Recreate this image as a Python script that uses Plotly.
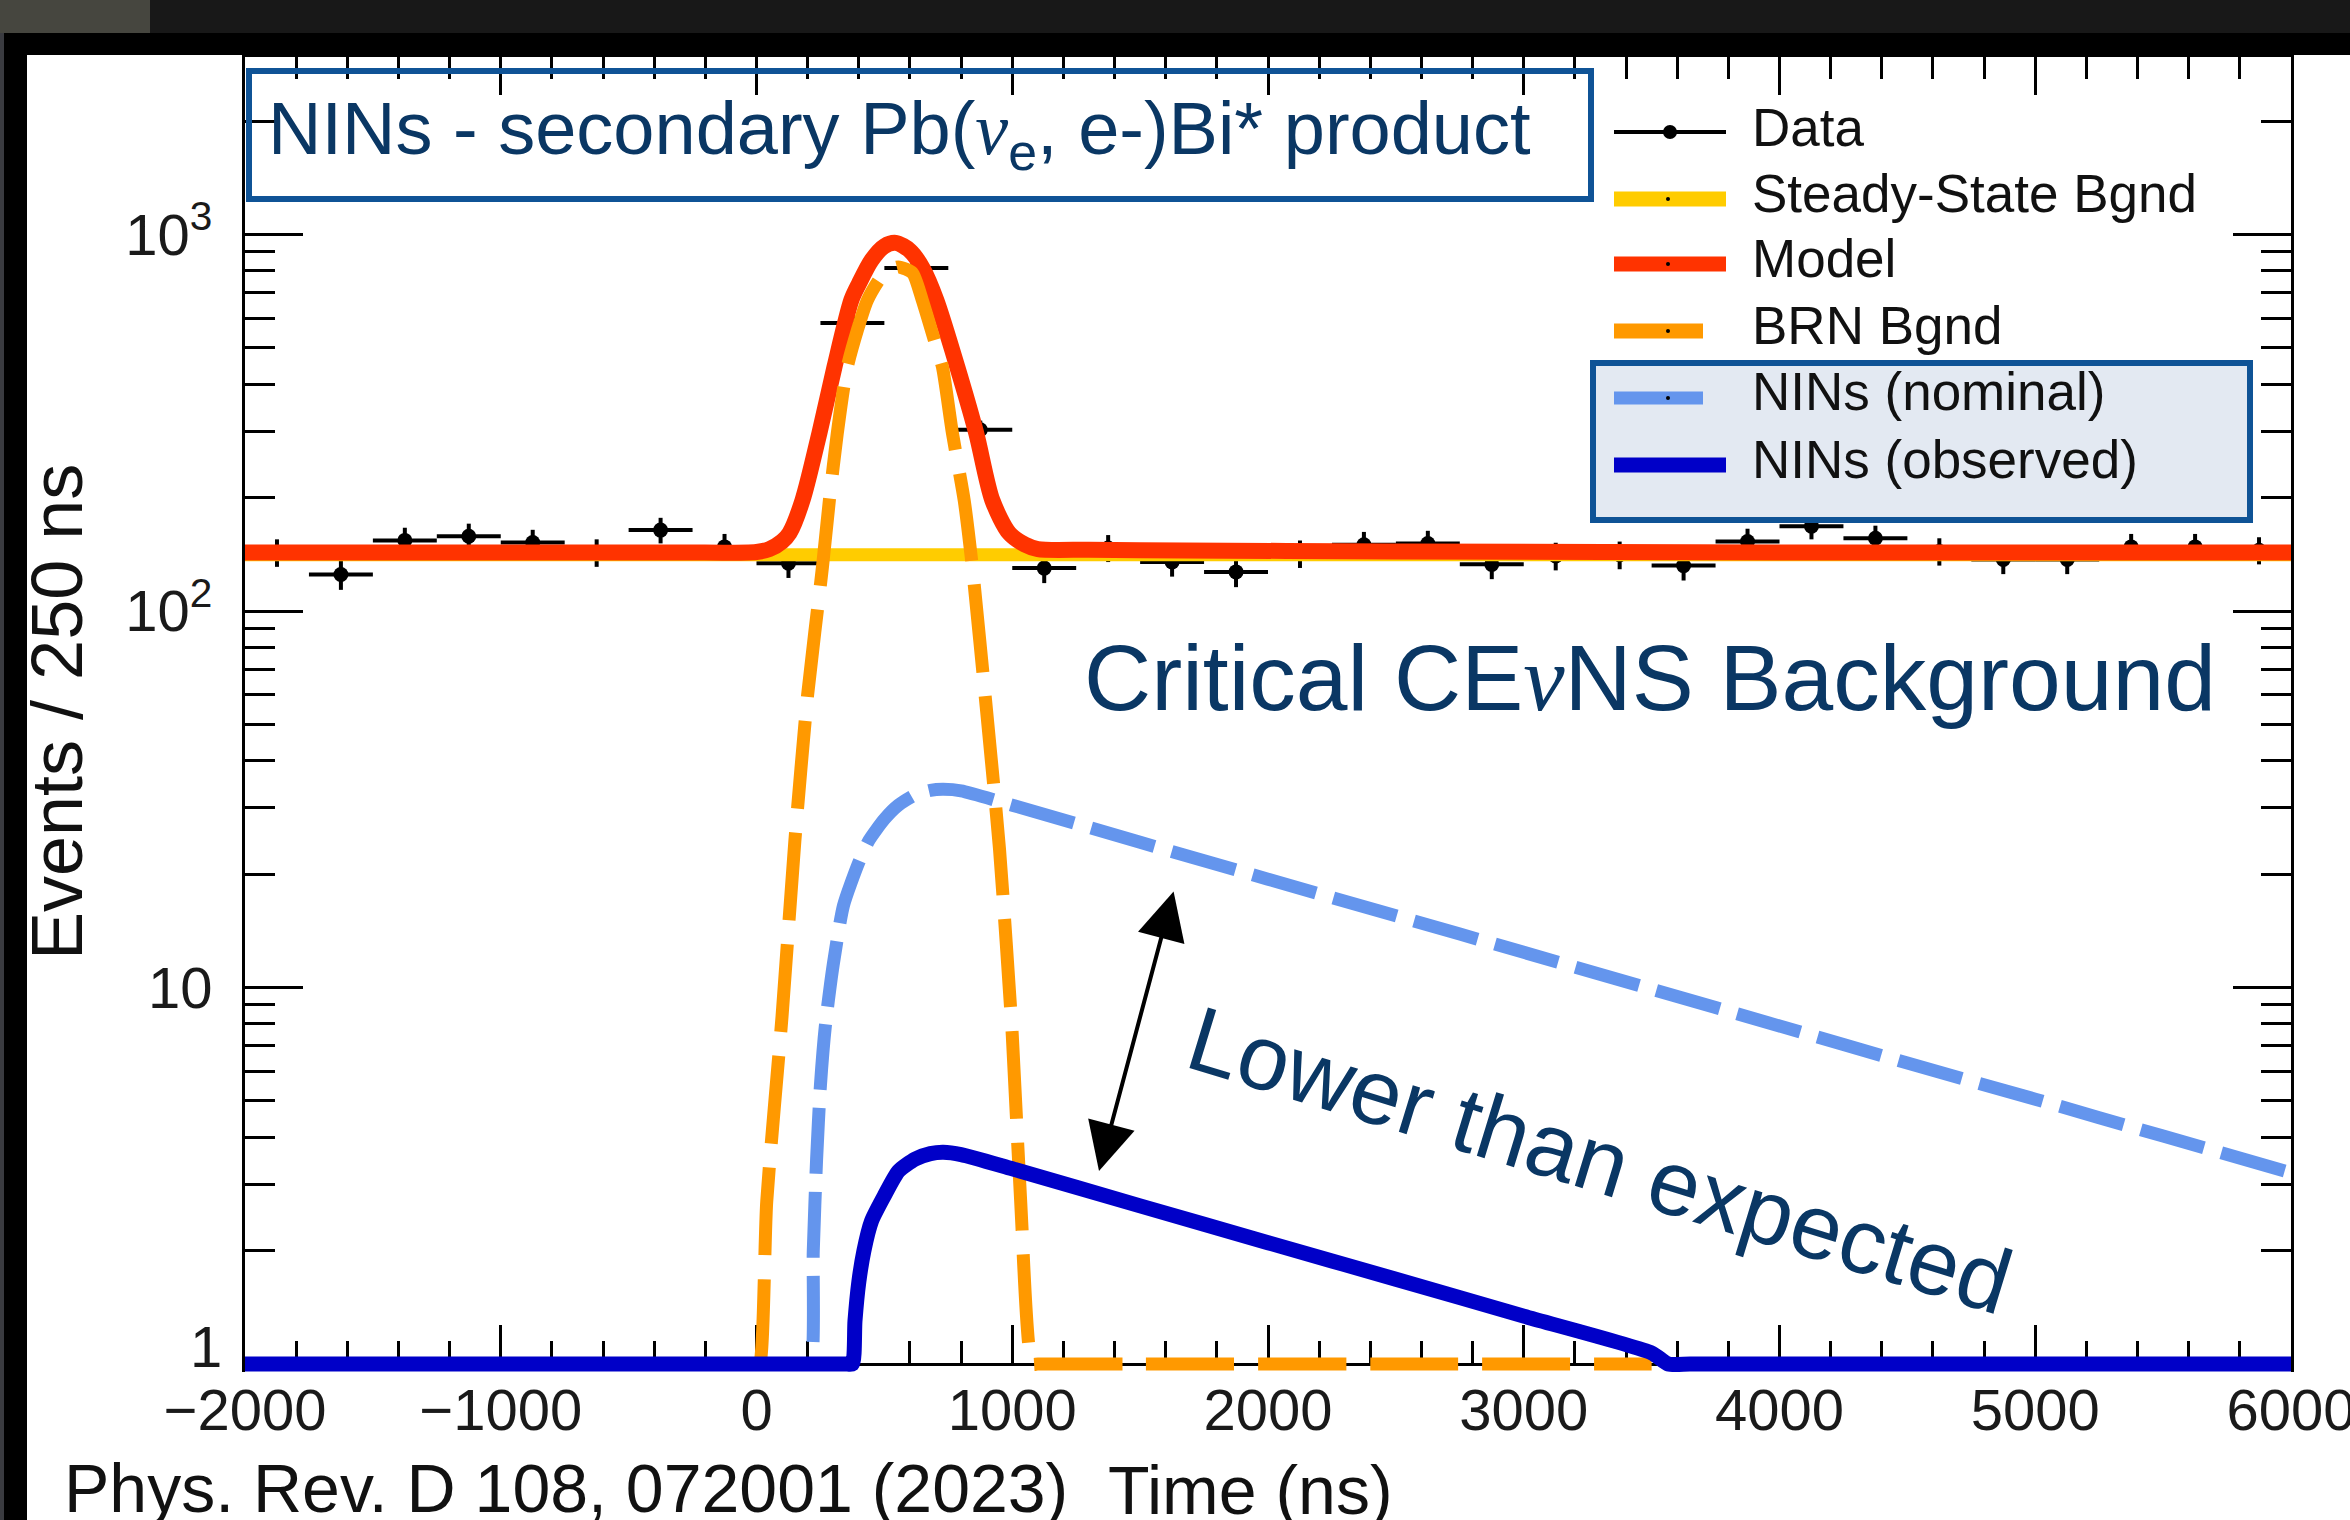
import plotly.graph_objects as go

# ---------------- data ----------------
bin_centers = [-1875, -1625, -1375, -1125, -875, -625, -375, -125,
               125, 375, 625, 875, 1125, 1375, 1625, 1875,
               2125, 2375, 2625, 2875, 3125, 3375, 3625, 3875,
               4125, 4375, 4625, 4875, 5125, 5375, 5625, 5875]
data_counts = [143, 125, 154, 158, 152, 143, 164, 148,
               134, 582, 815, 303, 130, 147, 135, 127,
               142, 150, 151, 133, 140, 141, 132, 153,
               168, 156, 144, 137, 137, 148, 148, 145]
data_err = [12.0, 11.2, 12.4, 12.6, 12.3, 12.0, 12.8, 12.2,
            11.6, 24.1, 28.5, 17.4, 11.4, 12.1, 11.6, 11.3,
            11.9, 12.2, 12.3, 11.5, 11.8, 11.9, 11.5, 12.4,
            13.0, 12.5, 12.0, 11.7, 11.7, 12.2, 12.2, 12.0]
bin_half_width = 125

steady_t = [-2000, 6000]
steady_v = [141, 141]

model_t = [-2000, -1000, -300, 0, 50, 100, 129, 180, 246, 305, 371, 400, 450, 500, 545,
           600, 650, 703, 785, 859, 922, 988, 1050, 1100, 1300, 1500, 2500, 4000, 6000]
model_v = [143, 143, 143, 143.5, 146, 153, 161, 197, 297, 445, 670, 739, 855, 931, 950,
           906, 813, 670, 445, 297, 197, 161, 150, 146, 145.5, 145, 144, 143, 143]

brn_t = [0, 12, 40, 100, 150, 200, 258, 285, 316, 355, 434, 500, 555, 610, 648,
         700, 727, 766, 812, 844, 900, 950, 1000, 1033, 1078, 1100, 1500, 2500, 3500]
brn_v = [1, 1, 2.7, 8.4, 24.5, 60, 131, 197, 297, 445, 670, 790, 820, 790, 670,
         512, 445, 297, 197, 131, 54, 23.4, 7.5, 2.7, 1, 1, 1, 1, 1]

nin_nom_t = [-2000, -500, 100, 180, 211, 222, 235, 250, 270, 300, 340, 400, 440, 500,
             555, 620, 680, 730, 800, 1000, 1500, 2000, 2500, 3000, 3500, 4000, 4500,
             5000, 5500, 6000]
nin_nom_v = [1, 1, 1, 1, 1, 2.0, 3.5, 5.5, 8.0, 11.5, 16.5, 21.5, 24.6, 28,
             30.5, 32.5, 33.4, 33.6, 33.3, 30.5, 24.3, 19.4, 15.5, 12.4, 9.9, 7.9, 6.3,
             5.05, 4.03, 3.22]

nin_obs_t = [-2000, -1000, 0, 200, 300, 350, 375, 385, 400, 420, 450, 500, 555, 620,
             680, 730, 800, 1000, 1500, 2000, 2500, 3000, 3500, 3565, 3650, 4000, 5000, 6000]
nin_obs_v = [1, 1, 1, 1, 1, 1, 1, 1.3, 1.65, 2.0, 2.4, 2.8, 3.25, 3.5,
             3.62, 3.65, 3.6, 3.3, 2.63, 2.1, 1.68, 1.34, 1.07, 1, 1, 1, 1, 1]

x_tick_vals = [-2000, -1000, 0, 1000, 2000, 3000, 4000, 5000, 6000]
x_tick_text = ["\u22122000", "\u22121000", "0", "1000", "2000", "3000", "4000", "5000", "6000"]
y_tick_vals = [1, 10, 100, 1000]
y_tick_text = ["", "10", "10<sup>2</sup>", "10<sup>3</sup>"]
y_bottom_label = "1"
y_minor_vals = [2, 3, 4, 5, 6, 7, 8, 9, 20, 30, 40, 50, 60, 70, 80, 90,
                200, 300, 400, 500, 600, 700, 800, 900, 2000]

legend_labels = ["Data", "Steady-State Bgnd", "Model", "BRN Bgnd",
                 "NINs (nominal)", "NINs (observed)"]

# ---------------- styling ----------------
FONT = "Liberation Sans, Arial, Helvetica, sans-serif"
NAVY = "#0a3764"
BOXBLUE = "#0f5396"
C_STEADY = "#ffcc00"
C_MODEL = "#ff3300"
C_BRN = "#ff9900"
C_NOM = "#6495ed"
C_OBS = "#0000c8"

W, H = 2350, 1520
L, R, T = 245, 59, 57
AXIS_Y = 1364          # pixel row of the value 1 / bottom frame
EXTRA = 8              # plot area extends a little below the frame so thick lines at 1 are not clipped
B = H - AXIS_Y - EXTRA
PW, PH = W - L - R, H - T - B
DEC = 376.5            # pixels per decade
y_lo = -EXTRA / DEC
y_hi = (AXIS_Y - T) / DEC


def px(x):
    return (x - L) / PW


def py(y):
    return (H - B - y) / PH


fig = go.Figure()

fig.add_trace(go.Scatter(
    x=bin_centers, y=data_counts, mode="markers",
    marker=dict(color="black", size=15, symbol="circle"),
    error_y=dict(type="data", array=data_err, thickness=4, width=0, color="black"),
    error_x=dict(type="constant", value=bin_half_width, thickness=4, width=0, color="black"),
    name=legend_labels[0], cliponaxis=False))

fig.add_trace(go.Scatter(x=steady_t, y=steady_v, mode="lines",
                         line=dict(color=C_STEADY, width=13), name=legend_labels[1]))
fig.add_trace(go.Scatter(x=model_t, y=model_v, mode="lines",
                         line=dict(color=C_MODEL, width=16, shape="spline", smoothing=0.8),
                         name=legend_labels[2]))
fig.add_trace(go.Scatter(x=brn_t, y=brn_v, mode="lines",
                         line=dict(color=C_BRN, width=13, dash="88px,24px",
                                   shape="spline", smoothing=0.6),
                         name=legend_labels[3]))
fig.add_trace(go.Scatter(x=nin_nom_t, y=nin_nom_v, mode="lines",
                         line=dict(color=C_NOM, width=13, dash="66px,18px",
                                   shape="spline", smoothing=0.6),
                         name=legend_labels[4]))
fig.add_trace(go.Scatter(x=nin_obs_t, y=nin_obs_v, mode="lines",
                         line=dict(color=C_OBS, width=15, shape="spline", smoothing=0.6),
                         name=legend_labels[5]))
# empty trace that carries the mirrored top axis
fig.add_trace(go.Scatter(x=[None], y=[None], xaxis="x2", yaxis="y", showlegend=False,
                         hoverinfo="skip"))

shapes = []
# photo frame around the white slide
shapes.append(dict(type="rect", xref="paper", yref="paper", x0=px(0), x1=px(W), y0=py(0), y1=py(33),
                   fillcolor="#181818", line=dict(width=0), layer="above"))
shapes.append(dict(type="rect", xref="paper", yref="paper", x0=px(0), x1=px(150), y0=py(0), y1=py(33),
                   fillcolor="#46463f", line=dict(width=0), layer="above"))
shapes.append(dict(type="rect", xref="paper", yref="paper", x0=px(4), x1=px(W), y0=py(33), y1=py(55),
                   fillcolor="black", line=dict(width=0), layer="above"))
shapes.append(dict(type="rect", xref="paper", yref="paper", x0=px(4), x1=px(27), y0=py(33), y1=py(H),
                   fillcolor="black", line=dict(width=0), layer="above"))
shapes.append(dict(type="rect", xref="paper", yref="paper", x0=px(0), x1=px(4), y0=py(33), y1=py(H),
                   fillcolor="#3a3b40", line=dict(width=0), layer="above"))

# title box (no fill)
shapes.append(dict(type="rect", xref="paper", yref="paper", x0=px(249), x1=px(1591),
                   y0=py(199), y1=py(71), line=dict(color=BOXBLUE, width=6), layer="above"))
# NINs legend box
shapes.append(dict(type="rect", xref="paper", yref="paper", x0=px(1593), x1=px(2250),
                   y0=py(520), y1=py(363), fillcolor="#e3e9f2",
                   line=dict(color=BOXBLUE, width=6), layer="above"))

# legend symbols
rows = [132, 199, 264, 331, 398, 465]
sym = [("black", 4, 1726), (C_STEADY, 15, 1726), (C_MODEL, 15, 1726),
       (C_BRN, 15, 1703), (C_NOM, 13, 1703), (C_OBS, 15, 1726)]
for (col, wdt, xend), yy in zip(sym, rows):
    shapes.append(dict(type="line", xref="paper", yref="paper", x0=px(1614), x1=px(xend),
                       y0=py(yy), y1=py(yy), line=dict(color=col, width=wdt), layer="above"))
shapes.append(dict(type="circle", xref="paper", yref="paper", x0=px(1663), x1=px(1677),
                   y0=py(139), y1=py(125), fillcolor="black", line=dict(width=0), layer="above"))
for yy in rows[1:5]:
    shapes.append(dict(type="circle", xref="paper", yref="paper", x0=px(1666), x1=px(1670),
                       y0=py(yy + 2), y1=py(yy - 2), fillcolor="black", line=dict(width=0),
                       layer="above"))

annotations = []
caps = [127, 193, 258, 325, 392, 459]
for lab, yy in zip(legend_labels, caps):
    annotations.append(dict(xref="paper", yref="paper", x=px(1750), y=py(yy), text=lab,
                            showarrow=False, xanchor="left", yanchor="middle",
                            font=dict(family=FONT, size=53, color="#111111")))

annotations.append(dict(
    xref="paper", yref="paper", x=px(266), y=py(134), xanchor="left", yanchor="middle",
    text="NINs - secondary Pb(<span style=\"font-family:Liberation Serif\"><i>\u03bd</i></span>"
         "<sub>e</sub>, e-)Bi* product",
    showarrow=False, font=dict(family=FONT, size=74, color=NAVY)))

annotations.append(dict(
    xref="paper", yref="paper", x=px(1082), y=py(678), xanchor="left", yanchor="middle",
    text="Critical CE<span style=\"font-family:Liberation Serif\"><i>\u03bd</i></span>NS Background",
    showarrow=False, font=dict(family=FONT, size=93, color=NAVY)))

annotations.append(dict(
    xref="paper", yref="paper", x=px(1600), y=py(1160), xanchor="center", yanchor="middle",
    text="Lower than expected", textangle=17, showarrow=False,
    font=dict(family=FONT, size=92, color=NAVY)))

annotations.append(dict(
    xref="paper", yref="paper", x=px(1099), y=py(1171), ax=75, ay=-281, text="",
    showarrow=True, arrowside="end+start", arrowhead=2, startarrowhead=2,
    arrowsize=2.4, startarrowsize=2.4, arrowwidth=4, arrowcolor="black"))

annotations.append(dict(
    xref="paper", yref="paper", x=px(57), y=py(712), xanchor="center", yanchor="middle",
    text="Events / 250 ns", textangle=-90, showarrow=False,
    font=dict(family=FONT, size=72, color="#111111")))

# bottom tick label of the log axis (sits a little above its tick, as in the original)
annotations.append(dict(
    xref="paper", yref="paper", x=px(224), y=py(1346), xanchor="right", yanchor="middle",
    text=y_bottom_label, showarrow=False,
    font=dict(family=FONT, size=58, color="#1a1a1a")))

annotations.append(dict(
    xref="paper", yref="paper", x=px(62), y=py(1488), xanchor="left", yanchor="middle",
    text="Phys. Rev. D 108, 072001 (2023)", showarrow=False,
    font=dict(family=FONT, size=68, color="#111111")))

annotations.append(dict(
    xref="paper", yref="paper", x=px(1106), y=py(1490), xanchor="left", yanchor="middle",
    text="Time (ns)", showarrow=False,
    font=dict(family=FONT, size=68, color="#111111")))

xcommon = dict(range=[-2000, 6000], tickmode="array", tickvals=x_tick_vals,
               ticks="inside", ticklen=38, tickwidth=3, tickcolor="black",
               minor=dict(ticks="inside", ticklen=22, tickwidth=3, tickcolor="black",
                          dtick=200, tick0=-2000, showgrid=False),
               showline=True, linewidth=3, linecolor="black",
               showgrid=False, zeroline=False, layer="below traces")

fig.update_layout(
    width=W, height=H, margin=dict(l=L, r=R, t=T, b=B, autoexpand=False),
    paper_bgcolor="white", plot_bgcolor="white", showlegend=False,
    shapes=shapes, annotations=annotations,
    xaxis=dict(**xcommon, ticktext=x_tick_text, anchor="free", position=EXTRA / PH,
               ticklabeloverflow="allow", ticklabelstandoff=-6,
               tickfont=dict(family=FONT, size=58, color="#1a1a1a")),
    xaxis2=dict(**xcommon, overlaying="x", side="top", anchor="y", showticklabels=False),
    yaxis=dict(type="log", range=[y_lo, y_hi], tickmode="array", tickvals=y_tick_vals,
               ticktext=y_tick_text, ticks="inside", ticklen=58, tickwidth=3, tickcolor="black",
               minor=dict(tickmode="array", tickvals=y_minor_vals, ticks="inside", ticklen=30,
                          tickwidth=3, tickcolor="black", showgrid=False),
               showline=True, linewidth=3, linecolor="black", mirror="ticks",
               showgrid=False, zeroline=False, layer="below traces", ticklabelstandoff=18,
               tickfont=dict(family=FONT, size=58, color="#1a1a1a")),
)

fig.write_html("out.html", config={"displayModeBar": False},
               post_script="document.body.style.margin='0px';")
